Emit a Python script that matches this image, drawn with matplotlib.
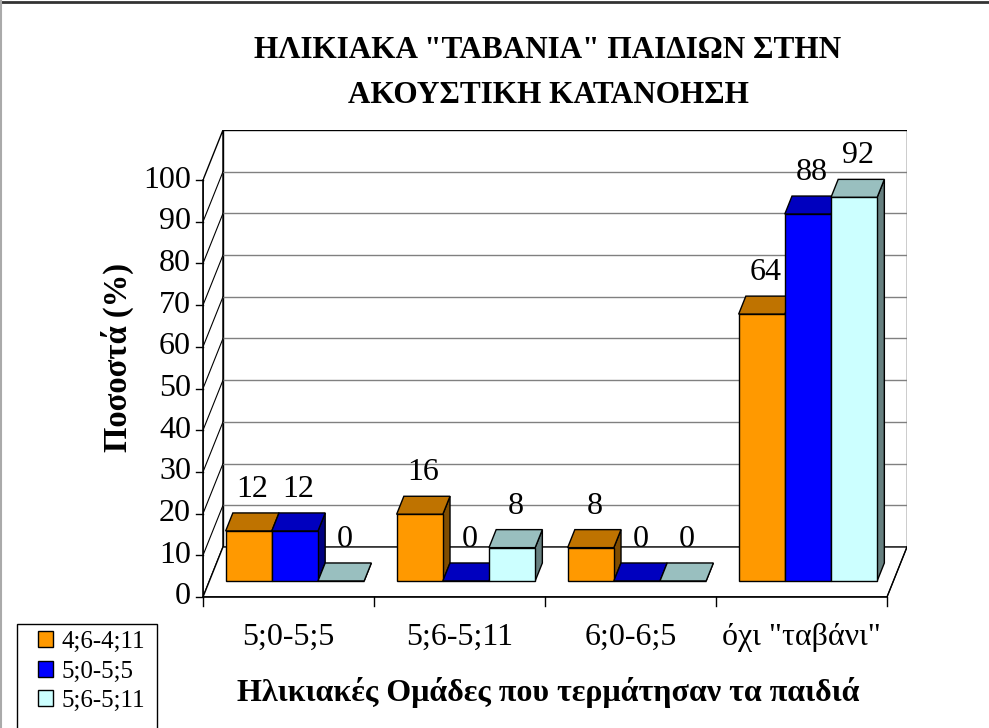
import matplotlib
matplotlib.use('Agg')
import matplotlib.pyplot as plt
from matplotlib.patches import Polygon, Rectangle
from matplotlib.lines import Line2D

# ---------------- data ----------------
categories = ['5;0-5;5', '5;6-5;11', '6;0-6;5', 'όχι "ταβάνι"']
series_names = ['4;6-4;11', '5;0-5;5', '5;6-5;11']
s_4_6 = [12, 16, 8, 64]
s_5_0 = [12, 0, 0, 88]
s_5_6 = [0, 8, 0, 92]
series = [s_4_6, s_5_0, s_5_6]
yticks = list(range(0, 101, 10))
title = 'ΗΛΙΚΙΑΚΑ "ΤΑΒΑΝΙΑ" ΠΑΙΔΙΩΝ ΣΤΗΝ\nΑΚΟΥΣΤΙΚΗ ΚΑΤΑΝΟΗΣΗ'
xlabel = 'Ηλικιακές Ομάδες που τερμάτησαν τα παιδιά'
ylabel = 'Ποσοστά (%)'

front_colors = ['#FF9900', '#0000FF', '#CCFFFF']
top_colors = ['#BF7300', '#0000BF', '#99BFBF']
side_colors = ['#804D00', '#000080', '#667F7F']

plt.rcParams['font.family'] = ['Liberation Serif', 'DejaVu Serif']

W, H = 989, 728
fig = plt.figure(figsize=(W / 100, H / 100), dpi=100)
fig.patch.set_facecolor('white')

# plot area in pixels
L, R, T, B = 203, 907, 130, 597
ax = fig.add_axes([L / W, 1 - B / H, (R - L) / W, (B - T) / H])
ncat = len(categories)
DX = 20 / 171.0   # depth shift (category units)
DY = 12.0         # depth shift (value units)
ax.set_xlim(0, ncat + DX)
ax.set_ylim(0, 100 + DY)
ax.axis('off')
px_x = (ncat + DX) / (R - L)   # data units per pixel
px_y = (100 + DY) / (B - T)

edge_lw = 1.0
# walls and floor
ax.add_patch(Polygon([(0, 0), (DX, DY), (DX, 100 + DY), (0, 100)], closed=True,
                     facecolor='white', edgecolor='black', lw=edge_lw, zorder=1))
ax.add_patch(Rectangle((DX, DY), ncat, 100, facecolor='white', edgecolor='black',
                       lw=edge_lw, zorder=1))
ax.add_patch(Polygon([(0, 0), (ncat, 0), (ncat + DX, DY), (DX, DY)], closed=True,
                     facecolor='white', edgecolor='black', lw=edge_lw, zorder=1))
for v in yticks[1:-1]:
    ax.plot([DX, ncat + DX], [v + DY, v + DY], color='#808080', lw=1.0, zorder=1.5)
    ax.plot([0, DX], [v, v + DY], color='black', lw=0.8, zorder=1.5)
# left axis line + ticks
ax.plot([0, 0], [0, 100], color='black', lw=1.2, zorder=2, clip_on=False)
for v in yticks:
    ax.plot([-7 * px_x, 0], [v, v], color='black', lw=1.0, clip_on=False, zorder=2)
    ax.text(-12 * px_x, v, str(v), ha='right', va='center', fontsize=23)
# front floor edge + category ticks
ax.plot([0, ncat], [0, 0], color='black', lw=1.2, zorder=2, clip_on=False)
for i in range(ncat + 1):
    ax.plot([i, i], [0, -9 * px_y], color='black', lw=1.0, clip_on=False, zorder=2)
ax.plot([ncat, ncat + DX], [0, DY], color='black', lw=0.8, zorder=2)
for i, c in enumerate(categories):
    ax.text(i + 0.5, -48 * px_y, c, ha='center', va='baseline', fontsize=23)

# bars
nser = len(series)
bw = 0.27
g0 = (1 - nser * bw) / 2
d0, d1 = 0.32, 0.68
handles = []
z = 3
for i in range(ncat):
    for j in range(nser):
        v = series[j][i]
        x0 = i + g0 + j * bw
        x1 = x0 + bw
        fx0, fx1, fy = x0 + d0 * DX, x1 + d0 * DX, d0 * DY
        bx0, bx1, by = x0 + d1 * DX, x1 + d1 * DX, d1 * DY
        ax.add_patch(Polygon([(fx1, fy), (bx1, by), (bx1, by + v), (fx1, fy + v)], closed=True,
                             facecolor=side_colors[j], edgecolor='black', lw=edge_lw, zorder=z))
        ax.add_patch(Polygon([(fx0, fy + v), (fx1, fy + v), (bx1, by + v), (bx0, by + v)], closed=True,
                             facecolor=top_colors[j], edgecolor='black', lw=edge_lw, zorder=z + 0.1))
        b = ax.bar(fx0, v, width=bw, bottom=fy, align='edge', color=front_colors[j],
                   edgecolor='black', lw=edge_lw, zorder=z + 0.2)
        if i == 0:
            handles.append(b)
        z += 1
        ax.text((fx0 + fx1) / 2 + 0.5 * (d1 - d0) * DX, fy + v + 34 * px_y, str(v),
                ha='center', va='baseline', fontsize=23, zorder=100)

# titles
fig.text(548 / W, 1 - 73 / H, title, ha='center', va='center', fontsize=22.5,
         fontweight='bold', linespacing=1.72)
fig.text(548 / W, 1 - 692 / H, xlabel, ha='center', va='center', fontsize=23,
         fontweight='bold')
fig.text(117 / W, 1 - 357 / H, ylabel, ha='center', va='center', fontsize=23.5,
         fontweight='bold', rotation=90)

# legend
leg = fig.legend(handles=handles, labels=series_names, loc='upper left',
                 bbox_to_anchor=(33 / W, 1 - 626 / H), frameon=False, fontsize=18,
                 handlelength=0.6, handleheight=0.6, handletextpad=0.35,
                 labelspacing=0.3, borderpad=0.2, borderaxespad=0)
fig.patches.append(Rectangle((17 / W, -2 / H), 140 / W, (728 - 624 + 2) / H,
                             transform=fig.transFigure, facecolor='none',
                             edgecolor='black', lw=1.0, zorder=5))
# chart border
fig.lines.append(Line2D([0, 1], [1 - 1.5 / H, 1 - 1.5 / H], transform=fig.transFigure,
                        color='#333333', lw=2))
fig.lines.append(Line2D([0.8 / W, 0.8 / W], [0, 1], transform=fig.transFigure,
                        color='#AAAAAA', lw=1.5))

fig.savefig('out.png', dpi=100)
